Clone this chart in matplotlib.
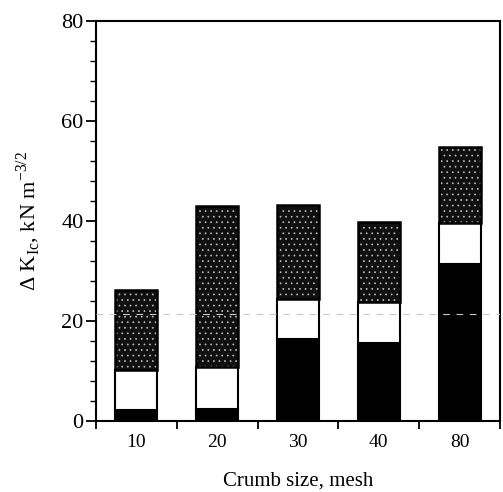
import matplotlib
matplotlib.use("Agg")
import matplotlib.pyplot as plt
from matplotlib.ticker import MultipleLocator, FixedLocator
import numpy as np

# Crumb size categories and stacked contributions to delta K_Ic
crumb_sizes = ["10", "20", "30", "40", "80"]
black_part = [2.2, 2.5, 16.5, 15.7, 31.5]
white_part = [8.0, 8.4, 8.0, 8.2, 8.2]
stipple_part = [16.0, 32.1, 18.7, 15.9, 15.2]

plt.rcParams["font.family"] = ["Liberation Serif", "DejaVu Serif"]
plt.rcParams["hatch.linewidth"] = 0.5

fig = plt.figure(figsize=(5.03, 4.92), dpi=100)
ax = fig.add_axes([0.191, 0.1443, 0.803, 0.8127])

x = np.arange(len(crumb_sizes))
width = 0.52
b1 = np.array(black_part)
b2 = b1 + np.array(white_part)

ax.bar(x, black_part, width, color="black", edgecolor="black", linewidth=1.5, zorder=2)
ax.bar(x, white_part, width, bottom=b1, color="white", edgecolor="black", linewidth=1.5, zorder=2)
# stippled segment: dark fill with light speckle hatch and black outline
ax.bar(x, stipple_part, width, bottom=b2, color="#101010", edgecolor="#bdbdbd",
       hatch="...", linewidth=0, zorder=2)
ax.bar(x, stipple_part, width, bottom=b2, fill=False, edgecolor="black",
       linewidth=1.8, zorder=3)

# faint dashed line across the plot
ax.axhline(21.4, color="#c8c8c8", linestyle=(0, (6, 6)), linewidth=0.8, zorder=4)

ax.set_xlim(-0.5, 4.5)
ax.set_ylim(0, 80)
ax.xaxis.set_major_locator(FixedLocator(np.arange(-0.5, 5.0, 1.0)))
ax.set_xticklabels([])
ax.xaxis.set_minor_locator(FixedLocator(x))
ax.set_xticklabels(crumb_sizes, minor=True)
ax.tick_params(axis="x", which="minor", length=0, labelsize=14, pad=9)
ax.tick_params(axis="x", which="major", direction="out", length=6, width=1.3)

ax.yaxis.set_major_locator(MultipleLocator(20))
ax.yaxis.set_minor_locator(MultipleLocator(4))
ax.tick_params(axis="y", which="major", direction="out", length=7, width=1.3, labelsize=16, pad=2)
ax.tick_params(axis="y", which="minor", direction="out", length=4, width=1.0)

for sp in ax.spines.values():
    sp.set_linewidth(1.5)

ax.set_xlabel("Crumb size, mesh", fontsize=15, labelpad=15)
ax.set_ylabel("Δ K$_{\\mathregular{Ic}}$, kN m$^{\\mathregular{-3/2}}$", fontsize=16, labelpad=14)

fig.savefig("out.png", dpi=100)
